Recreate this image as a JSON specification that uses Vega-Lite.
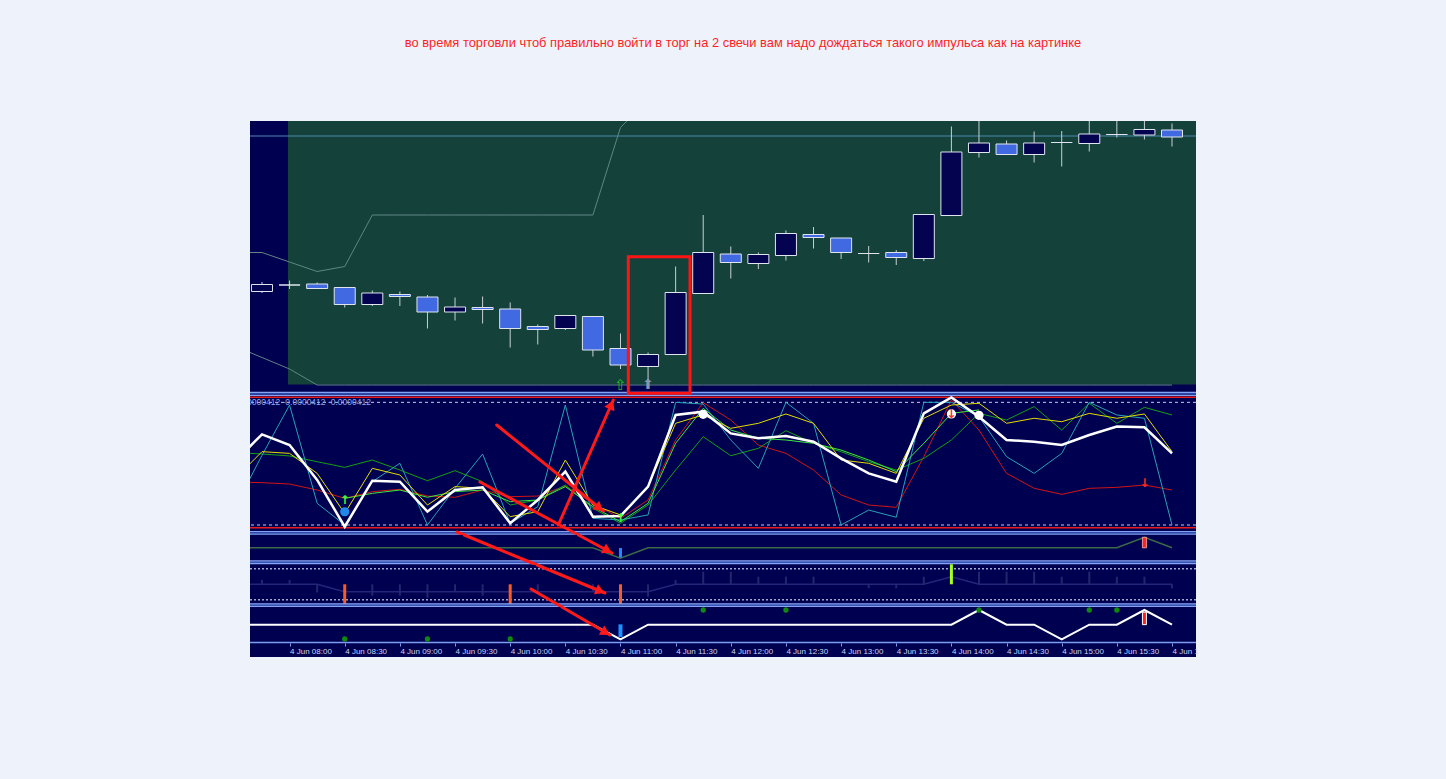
{
"$schema": "https://vega.github.io/schema/vega-lite/v6.json",
"padding": {"left": 249, "top": 36, "right": 250, "bottom": 122},
"background": "#eef3fb",
"spacing": 0,
"bounds": "flush",
"title": {"text": "во время торговли  чтоб правильно войти в торг на 2 свечи вам надо дождаться такого импульса как на картинке", "color": "#ff1e1e", "font": "Liberation Sans", "fontSize": 12.9, "fontWeight": "normal", "anchor": "middle", "frame": "group", "offset": 71, "dx": 20},
"config": {"view": {"fill": "#000050", "stroke": null}},
"datasets": {
"c": [
{"m":465,"o":1.24199,"h":1.24218,"l":1.24196,"c":1.24213},
{"m":480,"o":1.24212,"h":1.24221,"l":1.24204,"c":1.24212},
{"m":495,"o":1.24214,"h":1.24217,"l":1.24205,"c":1.24205},
{"m":510,"o":1.24207,"h":1.24207,"l":1.24167,"c":1.24173},
{"m":525,"o":1.24173,"h":1.24201,"l":1.2417,"c":1.24196},
{"m":540,"o":1.24193,"h":1.24199,"l":1.2417,"c":1.24189},
{"m":555,"o":1.24188,"h":1.24192,"l":1.24125,"c":1.24158},
{"m":570,"o":1.24158,"h":1.24187,"l":1.24141,"c":1.24168},
{"m":585,"o":1.24167,"h":1.24189,"l":1.24135,"c":1.24163},
{"m":600,"o":1.24164,"h":1.24177,"l":1.24087,"c":1.24125},
{"m":615,"o":1.24129,"h":1.24133,"l":1.24093,"c":1.24123},
{"m":630,"o":1.24125,"h":1.24151,"l":1.24122,"c":1.24151},
{"m":645,"o":1.24149,"h":1.24149,"l":1.24069,"c":1.24082},
{"m":660,"o":1.24085,"h":1.24115,"l":1.24044,"c":1.24052},
{"m":675,"o":1.24049,"h":1.24077,"l":1.24012,"c":1.24073},
{"m":690,"o":1.24073,"h":1.24249,"l":1.24073,"c":1.24197},
{"m":705,"o":1.24195,"h":1.24352,"l":1.24195,"c":1.24277},
{"m":720,"o":1.24274,"h":1.24289,"l":1.24225,"c":1.24257},
{"m":735,"o":1.24255,"h":1.24277,"l":1.24244,"c":1.24273},
{"m":750,"o":1.24271,"h":1.24321,"l":1.24261,"c":1.24315},
{"m":765,"o":1.24313,"h":1.24328,"l":1.24285,"c":1.24307},
{"m":780,"o":1.24306,"h":1.24306,"l":1.24264,"c":1.24277},
{"m":795,"o":1.24275,"h":1.2429,"l":1.24257,"c":1.24275},
{"m":810,"o":1.24277,"h":1.24282,"l":1.24252,"c":1.24267},
{"m":825,"o":1.24265,"h":1.24353,"l":1.2426,"c":1.24353},
{"m":840,"o":1.24351,"h":1.24529,"l":1.24351,"c":1.24478},
{"m":855,"o":1.24477,"h":1.2454,"l":1.24467,"c":1.24496},
{"m":870,"o":1.24494,"h":1.24501,"l":1.24473,"c":1.24473},
{"m":885,"o":1.24473,"h":1.24519,"l":1.24457,"c":1.24496},
{"m":900,"o":1.24497,"h":1.2452,"l":1.24449,"c":1.24497},
{"m":915,"o":1.24495,"h":1.2454,"l":1.24479,"c":1.24514},
{"m":930,"o":1.24513,"h":1.2454,"l":1.24507,"c":1.24513},
{"m":945,"o":1.24512,"h":1.2454,"l":1.24503,"c":1.24523},
{"m":960,"o":1.24522,"h":1.24535,"l":1.24489,"c":1.24508}
],
"ch": [
{"m":450,"up":1.24277,"dn":1.2409},{"m":465,"up":1.24277,"dn":1.24067},{"m":480,"up":1.24258,"dn":1.24044},
{"m":495,"up":1.24239,"dn":1.24012},{"m":510,"up":1.24249,"dn":1.24012},{"m":525,"up":1.24352,"dn":1.24012},
{"m":540,"up":1.24352,"dn":1.24012},{"m":555,"up":1.24352,"dn":1.24012},{"m":570,"up":1.24352,"dn":1.24012},
{"m":585,"up":1.24352,"dn":1.24012},{"m":600,"up":1.24352,"dn":1.24012},{"m":615,"up":1.24352,"dn":1.24012},
{"m":630,"up":1.24352,"dn":1.24012},{"m":645,"up":1.24352,"dn":1.24012},{"m":660,"up":1.24527,"dn":1.24012},
{"m":675,"up":1.24582,"dn":1.24012},{"m":690,"up":null,"dn":1.24012},{"m":705,"up":null,"dn":1.24012},
{"m":720,"up":null,"dn":1.24012},{"m":735,"up":null,"dn":1.24012},{"m":750,"up":null,"dn":1.24012},
{"m":765,"up":null,"dn":1.24012},{"m":780,"up":null,"dn":1.24012},{"m":795,"up":null,"dn":1.24012},
{"m":810,"up":null,"dn":1.24012},{"m":825,"up":null,"dn":1.24012},{"m":840,"up":null,"dn":1.24012},
{"m":855,"up":null,"dn":1.24012},{"m":870,"up":null,"dn":1.24012},{"m":885,"up":null,"dn":1.24012},
{"m":900,"up":null,"dn":1.24012},{"m":915,"up":null,"dn":1.24012},{"m":930,"up":null,"dn":1.24012},
{"m":945,"up":null,"dn":1.24012},{"m":960,"up":null,"dn":1.24012}
],
"ind": [
{"m":450,"te":13.6,"wh":51.4,"ye":37.2,"gr":59,"li":null,"rd":35.1},
{"m":465,"te":56.8,"wh":73.9,"ye":59.8,"gr":57.9,"li":null,"rd":34.5},
{"m":480,"te":97.8,"wh":65.2,"ye":58.4,"gr":56.3,"li":null,"rd":33.4},
{"m":495,"te":17.7,"wh":36.7,"ye":42.1,"gr":51.6,"li":null,"rd":28.5},
{"m":510,"te":0,"wh":-1.4,"ye":9.5,"gr":47,"li":21.7,"rd":21.7},
{"m":525,"te":35.3,"wh":36.1,"ye":46.2,"gr":53,"li":25.8,"rd":27.2},
{"m":540,"te":50.3,"wh":35.3,"ye":40.8,"gr":44.8,"li":28.5,"rd":29.1},
{"m":555,"te":0,"wh":10.9,"ye":16.3,"gr":36.1,"li":22.6,"rd":23.6},
{"m":570,"te":29.9,"wh":28.5,"ye":31.3,"gr":44.3,"li":27.2,"rd":22.6},
{"m":585,"te":57.9,"wh":30.7,"ye":29.9,"gr":35.3,"li":28.5,"rd":28.5},
{"m":600,"te":1.4,"wh":1.4,"ye":6.8,"gr":16.3,"li":19,"rd":23.1},
{"m":615,"te":14.9,"wh":20.4,"ye":10.9,"gr":20.4,"li":20.4,"rd":23.6},
{"m":630,"te":97.8,"wh":43.5,"ye":53,"gr":32.6,"li":31.3,"rd":31.8},
{"m":645,"te":5.4,"wh":6.8,"ye":16.3,"gr":13.6,"li":14.9,"rd":17.7},
{"m":660,"te":4.1,"wh":7.3,"ye":8.2,"gr":1.4,"li":2.7,"rd":5.4},
{"m":675,"te":8.2,"wh":31.3,"ye":31.3,"gr":16.3,"li":17.7,"rd":20.4},
{"m":690,"te":100,"wh":89.7,"ye":82.9,"gr":44.8,"li":66.6,"rd":69.3},
{"m":705,"te":98.6,"wh":92.4,"ye":89.7,"gr":72,"li":95.1,"rd":99.7},
{"m":720,"te":69.3,"wh":74.7,"ye":78.8,"gr":56.5,"li":77.4,"rd":85.6},
{"m":735,"te":46.2,"wh":70.7,"ye":82.9,"gr":62.5,"li":70.7,"rd":65.2},
{"m":750,"te":100,"wh":72.6,"ye":90.5,"gr":76.9,"li":69.3,"rd":58.4},
{"m":765,"te":82.9,"wh":67.9,"ye":82.9,"gr":66.6,"li":66.6,"rd":44.8},
{"m":780,"te":0,"wh":54.3,"ye":53,"gr":59.8,"li":61.1,"rd":24.5},
{"m":795,"te":12.2,"wh":42.1,"ye":50.3,"gr":51.6,"li":53,"rd":16.3},
{"m":810,"te":6.3,"wh":35.3,"ye":42.1,"gr":44.8,"li":43.5,"rd":14.4},
{"m":825,"te":100,"wh":91,"ye":87,"gr":54.3,"li":66.6,"rd":55.7},
{"m":840,"te":100,"wh":104,"ye":97.8,"gr":69.3,"li":91,"rd":101.9},
{"m":855,"te":88.3,"wh":88.3,"ye":99.2,"gr":91,"li":93.8,"rd":77.4},
{"m":870,"te":55.7,"wh":69.3,"ye":82.9,"gr":85.6,"li":null,"rd":42.1},
{"m":885,"te":42.1,"wh":67.9,"ye":87,"gr":96.5,"li":null,"rd":29.9},
{"m":900,"te":58.4,"wh":65.2,"ye":84.2,"gr":77.4,"li":null,"rd":25},
{"m":915,"te":100,"wh":73.4,"ye":91,"gr":99.2,"li":null,"rd":29.9},
{"m":930,"te":89.7,"wh":80.2,"ye":87,"gr":82.9,"li":null,"rd":30.7},
{"m":945,"te":87,"wh":79.6,"ye":90.5,"gr":95.9,"li":null,"rd":32.6},
{"m":960,"te":0,"wh":58.4,"ye":59.8,"gr":89.7,"li":null,"rd":28.5}
],
"low": [
{"m":450,"a":1,"b":0,"w":0},{"m":465,"a":1,"b":0,"w":0},{"m":480,"a":1,"b":0,"w":0},{"m":495,"a":1,"b":0,"w":0},
{"m":510,"a":1,"b":-0.48,"w":0},{"m":525,"a":1,"b":-0.48,"w":0},{"m":540,"a":1,"b":-0.48,"w":0},{"m":555,"a":1,"b":-0.48,"w":0},
{"m":570,"a":1,"b":-0.48,"w":0},{"m":585,"a":1,"b":-0.48,"w":0},{"m":600,"a":1,"b":-0.48,"w":0},{"m":615,"a":1,"b":-0.48,"w":0},
{"m":630,"a":1,"b":-0.48,"w":0},{"m":645,"a":1,"b":-0.48,"w":0},{"m":660,"a":0,"b":-0.48,"w":-1},{"m":675,"a":1,"b":-0.48,"w":0},
{"m":690,"a":1,"b":0,"w":0},{"m":705,"a":1,"b":0,"w":0},{"m":720,"a":1,"b":0,"w":0},{"m":735,"a":1,"b":0,"w":0},
{"m":750,"a":1,"b":0,"w":0},{"m":765,"a":1,"b":0,"w":0},{"m":780,"a":1,"b":0,"w":0},{"m":795,"a":1,"b":0,"w":0},
{"m":810,"a":1,"b":0,"w":0},{"m":825,"a":1,"b":0,"w":0},{"m":840,"a":1,"b":0.49,"w":0},{"m":855,"a":1,"b":0,"w":1},
{"m":870,"a":1,"b":0,"w":0},{"m":885,"a":1,"b":0,"w":0},{"m":900,"a":1,"b":0,"w":-1},{"m":915,"a":1,"b":0,"w":0},
{"m":930,"a":1,"b":0,"w":0},{"m":945,"a":2,"b":0,"w":1},{"m":960,"a":1,"b":0,"w":0}
],
"hist": [
{"m":465,"b":0.28},{"m":480,"b":0.28},{"m":495,"b":-0.52},{"m":525,"b":-0.74},{"m":540,"b":-0.74},{"m":555,"b":-0.86},
{"m":570,"b":-0.48},{"m":585,"b":-0.74},{"m":615,"b":-0.48},{"m":645,"b":-0.48},{"m":675,"b":-0.8},{"m":690,"b":0.28},
{"m":705,"b":0.81},{"m":720,"b":0.81},{"m":735,"b":0.49},{"m":750,"b":0.49},{"m":765,"b":0.49},{"m":795,"b":-0.26},
{"m":810,"b":-0.26},{"m":825,"b":0.49},{"m":855,"b":0.81},{"m":870,"b":0.81},{"m":885,"b":0.81},{"m":900,"b":0.49},
{"m":915,"b":0.81},{"m":930,"b":0.49},{"m":945,"b":0.49},{"m":960,"b":-0.26}
]
},
"vconcat": [
{"width": 946, "height": 275, "layer": [
 {"data": {"values": [{"m": 479.14, "m2": 973.05, "p": 1.24013, "p2": 1.2454}]},
  "mark": {"type": "rect", "fill": "#14423b"},
  "encoding": {"x": {"field": "m", "type": "quantitative", "scale": {"domain": [458.473, 973.05], "nice": false, "zero": false, "padding": 0}, "axis": null}, "x2": {"field": "m2"},
   "y": {"field": "p", "type": "quantitative", "scale": {"domain": [1.2399, 1.2454], "nice": false, "zero": false}, "axis": null}, "y2": {"field": "p2"}}},
 {"data": {"values": [{"p": 1.2451}]},
  "mark": {"type": "rule", "color": "#4d88b0", "strokeWidth": 1},
  "encoding": {"y": {"field": "p", "type": "quantitative", "scale": {"domain": [1.2399, 1.2454], "nice": false, "zero": false}, "axis": null}}},
 {"data": {"name": "ch"}, "mark": {"type": "line", "color": "#5f8585", "strokeWidth": 1, "clip": true},
  "encoding": {"x": {"field": "m", "type": "quantitative", "scale": {"domain": [458.473, 973.05], "nice": false, "zero": false, "padding": 0}, "axis": null},
   "y": {"field": "up", "type": "quantitative", "scale": {"domain": [1.2399, 1.2454], "nice": false, "zero": false}, "axis": null}}},
 {"data": {"name": "ch"}, "mark": {"type": "line", "color": "#5f8585", "strokeWidth": 1, "clip": true},
  "encoding": {"x": {"field": "m", "type": "quantitative", "scale": {"domain": [458.473, 973.05], "nice": false, "zero": false, "padding": 0}, "axis": null},
   "y": {"field": "dn", "type": "quantitative", "scale": {"domain": [1.2399, 1.2454], "nice": false, "zero": false}, "axis": null}}},
 {"data": {"name": "c"}, "mark": {"type": "rule", "color": "#c8ced8", "strokeWidth": 1},
  "encoding": {"x": {"field": "m", "type": "quantitative", "scale": {"domain": [458.473, 973.05], "nice": false, "zero": false, "padding": 0}, "axis": null},
   "y": {"field": "l", "type": "quantitative", "scale": {"domain": [1.2399, 1.2454], "nice": false, "zero": false}, "axis": null}, "y2": {"field": "h"}}},
 {"data": {"name": "c"}, "mark": {"type": "bar", "size": 21, "stroke": "#dfe4ee", "strokeWidth": 1},
  "encoding": {"x": {"field": "m", "type": "quantitative", "scale": {"domain": [458.473, 973.05], "nice": false, "zero": false, "padding": 0}, "axis": null},
   "y": {"field": "o", "type": "quantitative", "scale": {"domain": [1.2399, 1.2454], "nice": false, "zero": false}, "axis": null}, "y2": {"field": "c"},
   "fill": {"condition": {"test": "datum.c > datum.o", "value": "#03034f"}, "value": "#4169e1"}}},
 {"data": {"values": [{"m": 660, "p": 1.24012, "s": "⇧"}]},
  "mark": {"type": "text", "font": "DejaVu Sans", "fontSize": 15, "baseline": "middle", "align": "center", "color": "#22c022"},
  "encoding": {"x": {"field": "m", "type": "quantitative", "scale": {"domain": [458.473, 973.05], "nice": false, "zero": false, "padding": 0}, "axis": null},
   "y": {"field": "p", "type": "quantitative", "scale": {"domain": [1.2399, 1.2454], "nice": false, "zero": false}, "axis": null}, "text": {"field": "s"}}},
 {"data": {"values": [{"m": 675, "p": 1.24012, "s": "⬆"}]},
  "mark": {"type": "text", "font": "DejaVu Sans", "fontSize": 14, "baseline": "middle", "align": "center", "color": "#8a96aa"},
  "encoding": {"x": {"field": "m", "type": "quantitative", "scale": {"domain": [458.473, 973.05], "nice": false, "zero": false, "padding": 0}, "axis": null},
   "y": {"field": "p", "type": "quantitative", "scale": {"domain": [1.2399, 1.2454], "nice": false, "zero": false}, "axis": null}, "text": {"field": "s"}}},
 {"data": {"values": [{"p": 1.23997}, {"p": 1.239914}]},
  "mark": {"type": "rule", "color": "#86a4f4", "strokeWidth": 1.3},
  "encoding": {"y": {"field": "p", "type": "quantitative", "scale": {"domain": [1.2399, 1.2454], "nice": false, "zero": false}, "axis": null}}},
 {"data": {"values": [{"p": 1.239942}]},
  "mark": {"type": "rule", "color": "#3454b8", "strokeWidth": 1.2},
  "encoding": {"y": {"field": "p", "type": "quantitative", "scale": {"domain": [1.2399, 1.2454], "nice": false, "zero": false}, "axis": null}}},
 {"data": {"values": [{"m": 664.25, "m2": 697.81, "p": 1.239954, "p2": 1.242686}]},
  "mark": {"type": "rect", "fillOpacity": 0, "stroke": "#ff1414", "strokeWidth": 3},
  "encoding": {"x": {"field": "m", "type": "quantitative", "scale": {"domain": [458.473, 973.05], "nice": false, "zero": false, "padding": 0}, "axis": null}, "x2": {"field": "m2"},
   "y": {"field": "p", "type": "quantitative", "scale": {"domain": [1.2399, 1.2454], "nice": false, "zero": false}, "axis": null}, "y2": {"field": "p2"}}}
]},
{"width": 946, "height": 139, "layer": [
 {"data": {"values": [{"v": 104.1}, {"v": -2.2}]},
  "mark": {"type": "rule", "color": "#e41c1c", "strokeWidth": 1.5},
  "encoding": {"y": {"field": "v", "type": "quantitative", "scale": {"domain": [-8.15, 105.16], "nice": false, "zero": false}, "axis": null}}},
 {"data": {"values": [{"v": 100}, {"v": 0}]},
  "mark": {"type": "rule", "color": "#c5cce6", "strokeWidth": 1, "strokeDash": [3, 3]},
  "encoding": {"y": {"field": "v", "type": "quantitative", "scale": {"domain": [-8.15, 105.16], "nice": false, "zero": false}, "axis": null}}},
 {"data": {"values": [{"v": -5.46}, {"v": -7.34}]},
  "mark": {"type": "rule", "color": "#86a4f4", "strokeWidth": 1.3},
  "encoding": {"y": {"field": "v", "type": "quantitative", "scale": {"domain": [-8.15, 105.16], "nice": false, "zero": false}, "axis": null}}},
 {"data": {"values": [{"v": -6.4}]},
  "mark": {"type": "rule", "color": "#3454b8", "strokeWidth": 1.2},
  "encoding": {"y": {"field": "v", "type": "quantitative", "scale": {"domain": [-8.15, 105.16], "nice": false, "zero": false}, "axis": null}}},
 {"data": {"values": [{"m": 458.473, "v": 100, "s": "0.0000412 -0.0000412 -0.0000412"}]},
  "mark": {"type": "text", "align": "left", "baseline": "middle", "dx": -10, "font": "Liberation Sans", "fontSize": 8.5, "color": "#8fa8f0", "clip": true},
  "encoding": {"x": {"field": "m", "type": "quantitative", "scale": {"domain": [458.473, 973.05], "nice": false, "zero": false, "padding": 0}, "axis": null},
   "y": {"field": "v", "type": "quantitative", "scale": {"domain": [-8.15, 105.16], "nice": false, "zero": false}, "axis": null}, "text": {"field": "s"}}},
 {"data": {"name": "ind"}, "mark": {"type": "line", "color": "#d01414", "strokeWidth": 1, "clip": true},
  "encoding": {"x": {"field": "m", "type": "quantitative", "scale": {"domain": [458.473, 973.05], "nice": false, "zero": false, "padding": 0}, "axis": null},
   "y": {"field": "rd", "type": "quantitative", "scale": {"domain": [-8.15, 105.16], "nice": false, "zero": false}, "axis": null}}},
 {"data": {"name": "ind"}, "mark": {"type": "line", "color": "#12a012", "strokeWidth": 1, "clip": true},
  "encoding": {"x": {"field": "m", "type": "quantitative", "scale": {"domain": [458.473, 973.05], "nice": false, "zero": false, "padding": 0}, "axis": null},
   "y": {"field": "gr", "type": "quantitative", "scale": {"domain": [-8.15, 105.16], "nice": false, "zero": false}, "axis": null}}},
 {"data": {"name": "ind"}, "mark": {"type": "line", "color": "#27a3b5", "strokeWidth": 1, "clip": true},
  "encoding": {"x": {"field": "m", "type": "quantitative", "scale": {"domain": [458.473, 973.05], "nice": false, "zero": false, "padding": 0}, "axis": null},
   "y": {"field": "te", "type": "quantitative", "scale": {"domain": [-8.15, 105.16], "nice": false, "zero": false}, "axis": null}}},
 {"data": {"name": "ind"}, "mark": {"type": "line", "color": "#3ee83e", "strokeWidth": 1, "clip": true},
  "encoding": {"x": {"field": "m", "type": "quantitative", "scale": {"domain": [458.473, 973.05], "nice": false, "zero": false, "padding": 0}, "axis": null},
   "y": {"field": "li", "type": "quantitative", "scale": {"domain": [-8.15, 105.16], "nice": false, "zero": false}, "axis": null}}},
 {"data": {"name": "ind"}, "mark": {"type": "line", "color": "#e2dc00", "strokeWidth": 1, "clip": true},
  "encoding": {"x": {"field": "m", "type": "quantitative", "scale": {"domain": [458.473, 973.05], "nice": false, "zero": false, "padding": 0}, "axis": null},
   "y": {"field": "ye", "type": "quantitative", "scale": {"domain": [-8.15, 105.16], "nice": false, "zero": false}, "axis": null}}},
 {"data": {"name": "ind"}, "mark": {"type": "line", "color": "#ffffff", "strokeWidth": 2.5, "clip": true},
  "encoding": {"x": {"field": "m", "type": "quantitative", "scale": {"domain": [458.473, 973.05], "nice": false, "zero": false, "padding": 0}, "axis": null},
   "y": {"field": "wh", "type": "quantitative", "scale": {"domain": [-8.15, 105.16], "nice": false, "zero": false}, "axis": null}}},
 {"data": {"values": [{"m": 510, "v": 10.8}]},
  "mark": {"type": "point", "filled": true, "color": "#2088e8", "size": 85, "opacity": 1},
  "encoding": {"x": {"field": "m", "type": "quantitative", "scale": {"domain": [458.473, 973.05], "nice": false, "zero": false, "padding": 0}, "axis": null},
   "y": {"field": "v", "type": "quantitative", "scale": {"domain": [-8.15, 105.16], "nice": false, "zero": false}, "axis": null}}},
 {"data": {"values": [{"m": 705, "v": 90.2}, {"m": 840, "v": 90.5}, {"m": 855, "v": 89.4}]},
  "mark": {"type": "point", "filled": true, "color": "#ffffff", "size": 85, "opacity": 1},
  "encoding": {"x": {"field": "m", "type": "quantitative", "scale": {"domain": [458.473, 973.05], "nice": false, "zero": false, "padding": 0}, "axis": null},
   "y": {"field": "v", "type": "quantitative", "scale": {"domain": [-8.15, 105.16], "nice": false, "zero": false}, "axis": null}}},
 {"data": {"values": [{"m": 510, "v": 20.6, "s": "↑"}, {"m": 660, "v": 5.7, "s": "↑"}]},
  "mark": {"type": "text", "font": "DejaVu Sans", "fontSize": 12, "fontWeight": "bold", "baseline": "middle", "align": "center", "color": "#3cff3c"},
  "encoding": {"x": {"field": "m", "type": "quantitative", "scale": {"domain": [458.473, 973.05], "nice": false, "zero": false, "padding": 0}, "axis": null},
   "y": {"field": "v", "type": "quantitative", "scale": {"domain": [-8.15, 105.16], "nice": false, "zero": false}, "axis": null}, "text": {"field": "s"}}},
 {"data": {"values": [{"m": 840, "v": 90.5, "s": "↓"}, {"m": 945, "v": 34.2, "s": "↓"}]},
  "mark": {"type": "text", "font": "DejaVu Sans", "fontSize": 12, "fontWeight": "bold", "baseline": "middle", "align": "center", "color": "#ff2a2a"},
  "encoding": {"x": {"field": "m", "type": "quantitative", "scale": {"domain": [458.473, 973.05], "nice": false, "zero": false, "padding": 0}, "axis": null},
   "y": {"field": "v", "type": "quantitative", "scale": {"domain": [-8.15, 105.16], "nice": false, "zero": false}, "axis": null}, "text": {"field": "s"}}},
 {"data": {"values": [{"m": 626.17, "m2": 656.09, "v": 0, "v2": 101.9}, {"m": 592.66, "m2": 650.65, "v": 81.5, "v2": 11.4}, {"m": 583.58, "m2": 637.16, "v": 35.05, "v2": -8.15}, {"m": 571.07, "m2": 575.04, "v": -5.71, "v2": -8.15}]},
  "mark": {"type": "rule", "color": "#ff1a1a", "strokeWidth": 3, "strokeCap": "round"},
  "encoding": {"x": {"field": "m", "type": "quantitative", "scale": {"domain": [458.473, 973.05], "nice": false, "zero": false, "padding": 0}, "axis": null}, "x2": {"field": "m2"},
   "y": {"field": "v", "type": "quantitative", "scale": {"domain": [-8.15, 105.16], "nice": false, "zero": false}, "axis": null}, "y2": {"field": "v2"}}},
 {"data": {"values": [{"m": 655.0, "v": 98.15, "a": 23.75}, {"m": 648.53, "v": 13.94, "a": 128.9}]},
  "mark": {"type": "point", "shape": "triangle-up", "filled": true, "color": "#ff1a1a", "size": 120, "opacity": 1},
  "encoding": {"x": {"field": "m", "type": "quantitative", "scale": {"domain": [458.473, 973.05], "nice": false, "zero": false, "padding": 0}, "axis": null},
   "y": {"field": "v", "type": "quantitative", "scale": {"domain": [-8.15, 105.16], "nice": false, "zero": false}, "axis": null}, "angle": {"field": "a", "type": "quantitative", "scale": null}}}
]},
{"width": 946, "height": 30, "layer": [
 {"data": {"values": [{"v": -0.257}, {"v": -0.514}]},
  "mark": {"type": "rule", "color": "#86a4f4", "strokeWidth": 1.3},
  "encoding": {"y": {"field": "v", "type": "quantitative", "scale": {"domain": [-0.638, 2.219], "nice": false, "zero": false}, "axis": null}}},
 {"data": {"values": [{"v": -0.386}]},
  "mark": {"type": "rule", "color": "#3454b8", "strokeWidth": 1.2},
  "encoding": {"y": {"field": "v", "type": "quantitative", "scale": {"domain": [-0.638, 2.219], "nice": false, "zero": false}, "axis": null}}},
 {"data": {"name": "low"}, "mark": {"type": "line", "color": "#3b6b46", "strokeWidth": 1.5, "clip": true},
  "encoding": {"x": {"field": "m", "type": "quantitative", "scale": {"domain": [458.473, 973.05], "nice": false, "zero": false, "padding": 0}, "axis": null},
   "y": {"field": "a", "type": "quantitative", "scale": {"domain": [-0.638, 2.219], "nice": false, "zero": false}, "axis": null}}},
 {"data": {"values": [{"m": 660, "a": 0.05, "b": 0.98}]},
  "mark": {"type": "rule", "color": "#1e88ff", "strokeWidth": 3},
  "encoding": {"x": {"field": "m", "type": "quantitative", "scale": {"domain": [458.473, 973.05], "nice": false, "zero": false, "padding": 0}, "axis": null},
   "y": {"field": "a", "type": "quantitative", "scale": {"domain": [-0.638, 2.219], "nice": false, "zero": false}, "axis": null}, "y2": {"field": "b"}}},
 {"data": {"values": [{"m": 945, "a": 1, "b": 2}]},
  "mark": {"type": "bar", "size": 4, "fill": "#ff2020", "stroke": "#ffb0b0", "strokeWidth": 0.8},
  "encoding": {"x": {"field": "m", "type": "quantitative", "scale": {"domain": [458.473, 973.05], "nice": false, "zero": false, "padding": 0}, "axis": null},
   "y": {"field": "a", "type": "quantitative", "scale": {"domain": [-0.638, 2.219], "nice": false, "zero": false}, "axis": null}, "y2": {"field": "b"}}},
 {"data": {"values": [{"m": 637.16, "m2": 655.38, "v": 2.219, "v2": 0.505}, {"m": 575.04, "m2": 614.64, "v": 2.219, "v2": -0.638}]},
  "mark": {"type": "rule", "color": "#ff1a1a", "strokeWidth": 3, "strokeCap": "round"},
  "encoding": {"x": {"field": "m", "type": "quantitative", "scale": {"domain": [458.473, 973.05], "nice": false, "zero": false, "padding": 0}, "axis": null}, "x2": {"field": "m2"},
   "y": {"field": "v", "type": "quantitative", "scale": {"domain": [-0.638, 2.219], "nice": false, "zero": false}, "axis": null}, "y2": {"field": "v2"}}},
 {"data": {"values": [{"m": 652.99, "v": 0.733, "a": 118.3}]},
  "mark": {"type": "point", "shape": "triangle-up", "filled": true, "color": "#ff1a1a", "size": 120, "opacity": 1},
  "encoding": {"x": {"field": "m", "type": "quantitative", "scale": {"domain": [458.473, 973.05], "nice": false, "zero": false, "padding": 0}, "axis": null},
   "y": {"field": "v", "type": "quantitative", "scale": {"domain": [-0.638, 2.219], "nice": false, "zero": false}, "axis": null}, "angle": {"field": "a", "type": "quantitative", "scale": null}}}
]},
{"width": 946, "height": 42, "layer": [
 {"data": {"values": [{"v": 1}, {"v": -1}]},
  "mark": {"type": "rule", "color": "#a0aad0", "strokeWidth": 1.5, "strokeDash": [2, 2]},
  "encoding": {"y": {"field": "v", "type": "quantitative", "scale": {"domain": [-1.465, 1.245], "nice": false, "zero": false}, "axis": null}}},
 {"data": {"name": "hist"}, "mark": {"type": "rule", "color": "#25256e", "strokeWidth": 2},
  "encoding": {"x": {"field": "m", "type": "quantitative", "scale": {"domain": [458.473, 973.05], "nice": false, "zero": false, "padding": 0}, "axis": null},
   "y": {"field": "b", "type": "quantitative", "scale": {"domain": [-1.465, 1.245], "nice": false, "zero": false}, "axis": null}, "y2": {"datum": 0}}},
 {"data": {"name": "low"}, "mark": {"type": "line", "color": "#25257a", "strokeWidth": 1.5, "clip": true},
  "encoding": {"x": {"field": "m", "type": "quantitative", "scale": {"domain": [458.473, 973.05], "nice": false, "zero": false, "padding": 0}, "axis": null},
   "y": {"field": "b", "type": "quantitative", "scale": {"domain": [-1.465, 1.245], "nice": false, "zero": false}, "axis": null}}},
 {"data": {"values": [{"m": 510, "b": -1.27}, {"m": 600, "b": -1.27}, {"m": 660, "b": -1.27}]},
  "mark": {"type": "rule", "color": "#ff5a1e", "strokeWidth": 3},
  "encoding": {"x": {"field": "m", "type": "quantitative", "scale": {"domain": [458.473, 973.05], "nice": false, "zero": false, "padding": 0}, "axis": null},
   "y": {"field": "b", "type": "quantitative", "scale": {"domain": [-1.465, 1.245], "nice": false, "zero": false}, "axis": null}, "y2": {"datum": 0}}},
 {"data": {"values": [{"m": 840, "b": 1.29}]},
  "mark": {"type": "rule", "color": "#a8ff1e", "strokeWidth": 3},
  "encoding": {"x": {"field": "m", "type": "quantitative", "scale": {"domain": [458.473, 973.05], "nice": false, "zero": false, "padding": 0}, "axis": null},
   "y": {"field": "b", "type": "quantitative", "scale": {"domain": [-1.465, 1.245], "nice": false, "zero": false}, "axis": null}, "y2": {"datum": 0}}},
 {"data": {"values": [{"v": -1.271}, {"v": -1.445}]},
  "mark": {"type": "rule", "color": "#86a4f4", "strokeWidth": 1.3},
  "encoding": {"y": {"field": "v", "type": "quantitative", "scale": {"domain": [-1.465, 1.245], "nice": false, "zero": false}, "axis": null}}},
 {"data": {"values": [{"v": -1.358}]},
  "mark": {"type": "rule", "color": "#3454b8", "strokeWidth": 1.2},
  "encoding": {"y": {"field": "v", "type": "quantitative", "scale": {"domain": [-1.465, 1.245], "nice": false, "zero": false}, "axis": null}}},
 {"data": {"values": [{"m": 614.64, "m2": 651.57, "v": 1.245, "v2": -0.561}, {"m": 611.32, "m2": 628.13, "v": -0.303, "v2": -1.465}]},
  "mark": {"type": "rule", "color": "#ff1a1a", "strokeWidth": 3, "strokeCap": "round"},
  "encoding": {"x": {"field": "m", "type": "quantitative", "scale": {"domain": [458.473, 973.05], "nice": false, "zero": false, "padding": 0}, "axis": null}, "x2": {"field": "m2"},
   "y": {"field": "v", "type": "quantitative", "scale": {"domain": [-1.465, 1.245], "nice": false, "zero": false}, "axis": null}, "y2": {"field": "v2"}}},
 {"data": {"values": [{"m": 649.07, "v": -0.439, "a": 112.4}]},
  "mark": {"type": "point", "shape": "triangle-up", "filled": true, "color": "#ff1a1a", "size": 120, "opacity": 1},
  "encoding": {"x": {"field": "m", "type": "quantitative", "scale": {"domain": [458.473, 973.05], "nice": false, "zero": false, "padding": 0}, "axis": null},
   "y": {"field": "v", "type": "quantitative", "scale": {"domain": [-1.465, 1.245], "nice": false, "zero": false}, "axis": null}, "angle": {"field": "a", "type": "quantitative", "scale": null}}}
]},
{"width": 946, "height": 50,
 "encoding": {"x": {"field": "m", "type": "quantitative", "title": null, "scale": {"domain": [458.473, 973.05], "nice": false, "zero": false, "padding": 0},
    "axis": {"orient": "bottom", "offset": -14, "values": [480, 510, 540, 570, 600, 630, 660, 690, 720, 750, 780, 810, 840, 870, 900, 930, 960], "labelExpr": "datum.value == 960 ? '4 Jun 1' : '4 Jun ' + (datum.value < 600 ? '0' : '') + floor(datum.value / 60) + ':' + (datum.value % 60 == 0 ? '00' : '30')", "labelAlign": "left", "labelBaseline": "top", "labelPadding": 1, "labelFont": "Liberation Sans", "labelFontSize": 8, "labelColor": "#c9d5f5", "labelOverlap": false, "labelFlush": false, "labelBound": false, "tickSize": 3, "tickColor": "#7d9cf2", "domain": false, "grid": false, "zindex": 1}}},
 "layer": [
 {"data": {"name": "low"}, "mark": {"type": "line", "color": "#ffffff", "strokeWidth": 2, "clip": true},
  "encoding": {"y": {"field": "w", "type": "quantitative", "scale": {"domain": [-2.208, 1.205], "nice": false, "zero": false}, "axis": null}}},
 {"data": {"values": [{"m": 458.473, "m2": 973.05, "v": -1.218}]},
  "mark": {"type": "rule", "color": "#7d9cf2", "strokeWidth": 1.5},
  "encoding": {"x2": {"field": "m2"}, "y": {"field": "v", "type": "quantitative", "scale": {"domain": [-2.208, 1.205], "nice": false, "zero": false}, "axis": null}}},
 {"data": {"values": [{"m": 660, "a": 0.02, "b": -0.84}]},
  "mark": {"type": "rule", "color": "#1e90ff", "strokeWidth": 4},
  "encoding": {"y": {"field": "a", "type": "quantitative", "scale": {"domain": [-2.208, 1.205], "nice": false, "zero": false}, "axis": null}, "y2": {"field": "b"}}},
 {"data": {"values": [{"m": 945, "a": 0, "b": 0.85}]},
  "mark": {"type": "bar", "size": 4, "fill": "#ff2020", "stroke": "#ffffff", "strokeWidth": 1},
  "encoding": {"y": {"field": "a", "type": "quantitative", "scale": {"domain": [-2.208, 1.205], "nice": false, "zero": false}, "axis": null}, "y2": {"field": "b"}}},
 {"data": {"values": [{"m": 510, "v": -0.98}, {"m": 555, "v": -0.98}, {"m": 600, "v": -0.98}, {"m": 705, "v": 1}, {"m": 750, "v": 1}, {"m": 855, "v": 1}, {"m": 915, "v": 1}, {"m": 930, "v": 1}]},
  "mark": {"type": "point", "filled": true, "color": "#0e8a0e", "size": 28, "opacity": 1},
  "encoding": {"y": {"field": "v", "type": "quantitative", "scale": {"domain": [-2.208, 1.205], "nice": false, "zero": false}, "axis": null}}},
 {"data": {"values": [{"m": 628.13, "m2": 654.3, "v": 1.205, "v2": -0.707}]},
  "mark": {"type": "rule", "color": "#ff1a1a", "strokeWidth": 3, "strokeCap": "round"},
  "encoding": {"x2": {"field": "m2"}, "y": {"field": "v", "type": "quantitative", "scale": {"domain": [-2.208, 1.205], "nice": false, "zero": false}, "axis": null}, "y2": {"field": "v2"}}},
 {"data": {"values": [{"m": 651.96, "v": -0.536, "a": 120.2}]},
  "mark": {"type": "point", "shape": "triangle-up", "filled": true, "color": "#ff1a1a", "size": 120, "opacity": 1},
  "encoding": {"y": {"field": "v", "type": "quantitative", "scale": {"domain": [-2.208, 1.205], "nice": false, "zero": false}, "axis": null}, "angle": {"field": "a", "type": "quantitative", "scale": null}}}
]}
]
}
